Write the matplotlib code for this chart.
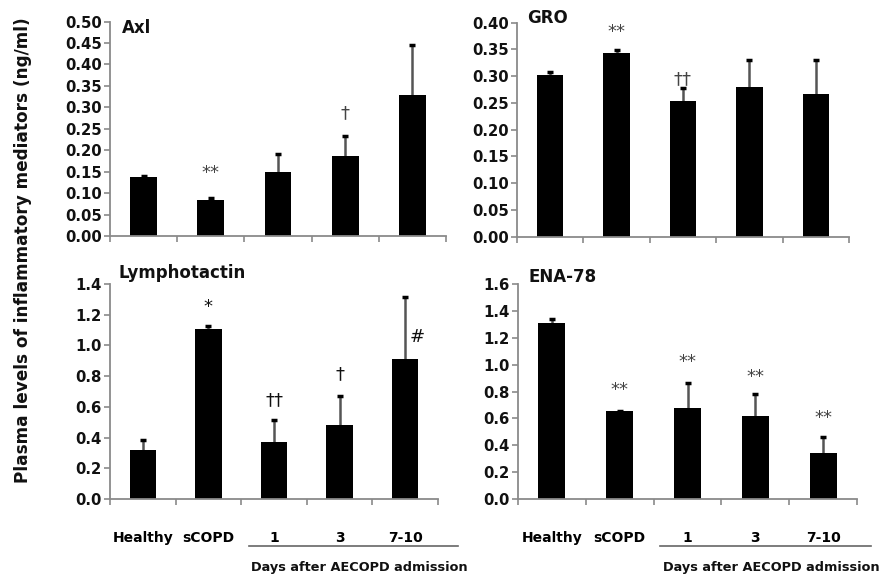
import matplotlib
matplotlib.use("Agg")
import matplotlib.pyplot as plt
from matplotlib.lines import Line2D

plt.rcParams['font.family'] = ['DejaVu Sans']
plt.rcParams['font.weight'] = 'bold'

categories = ["Healthy", "sCOPD", "1", "3", "7-10"]
group_label = "Days after AECOPD admission"
ylabel = "Plasma levels of inflammatory mediators (ng/ml)"

axl_mean = [0.138, 0.084, 0.150, 0.187, 0.329]
axl_err = [0.003, 0.005, 0.041, 0.045, 0.117]
axl_marks = ["", "**", "", "\u2020", ""]
axl_mark_y = [None, 0.148, None, 0.287, None]

gro_mean = [0.303, 0.343, 0.253, 0.279, 0.267]
gro_err = [0.005, 0.006, 0.025, 0.051, 0.063]
gro_marks = ["", "**", "\u2020\u2020", "", ""]
gro_mark_y = [None, 0.383, 0.295, None, None]

lym_mean = [0.32, 1.105, 0.37, 0.484, 0.91]
lym_err = [0.065, 0.024, 0.143, 0.187, 0.408]
lym_marks = ["", "*", "\u2020\u2020", "\u2020", "#"]
lym_mark_y = [None, 1.253, 0.645, 0.812, 1.053]

ena_mean = [1.311, 0.654, 0.674, 0.619, 0.340]
ena_err = [0.027, 0.004, 0.191, 0.164, 0.123]
ena_marks = ["", "**", "**", "**", "**"]
ena_mark_y = [None, 0.81, 1.02, 0.91, 0.60]

W, H = 882, 576
fig = plt.figure(figsize=(W / 100, H / 100), dpi=100)

def px_axes(x0, y0, x1, y1):
    return fig.add_axes([x0 / W, 1 - y1 / H, (x1 - x0) / W, (y1 - y0) / H])

panels = [
    dict(box=(110, 21.5, 446, 236), mean=axl_mean, err=axl_err, marks=axl_marks, my=axl_mark_y,
         ylim=(0, 0.5), step=0.05, fmt="{:.2f}", title="Axl", tpos=(122, 28), bottom=False),
    dict(box=(517, 22.7, 849, 236.7), mean=gro_mean, err=gro_err, marks=gro_marks, my=gro_mark_y,
         ylim=(0, 0.4), step=0.05, fmt="{:.2f}", title="GRO", tpos=(527, 18), bottom=False),
    dict(box=(110, 284, 438, 499), mean=lym_mean, err=lym_err, marks=lym_marks, my=lym_mark_y,
         ylim=(0, 1.4), step=0.2, fmt="{:.1f}", title="Lymphotactin", tpos=(118, 273), bottom=True),
    dict(box=(518, 284, 857, 499), mean=ena_mean, err=ena_err, marks=ena_marks, my=ena_mark_y,
         ylim=(0, 1.6), step=0.2, fmt="{:.1f}", title="ENA-78", tpos=(529, 277), bottom=True),
]

spine_c = '#8a8a8a'
for p in panels:
    ax = px_axes(*p['box'])
    x = list(range(len(categories)))
    tops = [m + e for m, e in zip(p['mean'], p['err'])]
    ax.vlines(x, p['mean'], tops, colors='#555555', linewidth=1.8, zorder=1)
    ax.plot(x, tops, linestyle='none', marker='_', markersize=5, markeredgewidth=2.5,
            color='black', zorder=3)
    ax.bar(x, p['mean'], width=0.4, color='black', zorder=2)
    for i, (m, yy) in enumerate(zip(p['marks'], p['my'])):
        if not m:
            continue
        dx = 0.18 if m == "#" else 0
        col = '#111111' if p['title'] == 'Lymphotactin' else '#444444'
        ax.text(i + dx, yy, m, ha='center', va='center', fontsize=13,
                fontweight='normal', color=col)
    ax.set_xlim(-0.5, len(categories) - 0.5)
    ax.set_ylim(*p['ylim'])
    n = int(round(p['ylim'][1] / p['step']))
    ticks = [k * p['step'] for k in range(n + 1)]
    ax.set_yticks(ticks)
    ax.set_yticklabels([p['fmt'].format(t) for t in ticks])
    ax.set_xticks([k - 0.5 for k in range(len(categories) + 1)])
    ax.set_xticklabels([])
    if p['bottom']:
        ax.set_xticks(x, minor=True)
        ax.set_xticklabels(categories, minor=True)
        ax.tick_params(axis='x', which='minor', length=0, pad=23, labelsize=10)
    for s in ['top', 'right']:
        ax.spines[s].set_visible(False)
    for s in ['left', 'bottom']:
        ax.spines[s].set_color(spine_c)
        ax.spines[s].set_linewidth(1.3)
    ax.tick_params(axis='both', which='major', direction='out', length=4,
                   width=1.2, color=spine_c, labelsize=10.7, labelcolor='#111111')
    ax.tick_params(axis='y', pad=2)
    fig.text(p['tpos'][0] / W, 1 - p['tpos'][1] / H, p['title'], ha='left', va='center',
             fontsize=12, fontweight='bold', color='#111111')

# group lines and labels
for (x0, x1, tx) in [(249, 458, 251), (660, 871, 663)]:
    fig.add_artist(Line2D([x0 / W, x1 / W], [1 - 546 / H, 1 - 546 / H],
                          color='#666666', linewidth=1.2, transform=fig.transFigure))
    fig.text(tx / W, 1 - 567 / H, group_label, ha='left', va='center',
             fontsize=9.3, fontweight='bold', color='#111111')

fig.text(23 / W, 1 - 250 / H, ylabel, rotation=90, ha='center', va='center',
         fontsize=12.2, fontweight='bold', color='#111111')

fig.savefig('out.png', dpi=100)
